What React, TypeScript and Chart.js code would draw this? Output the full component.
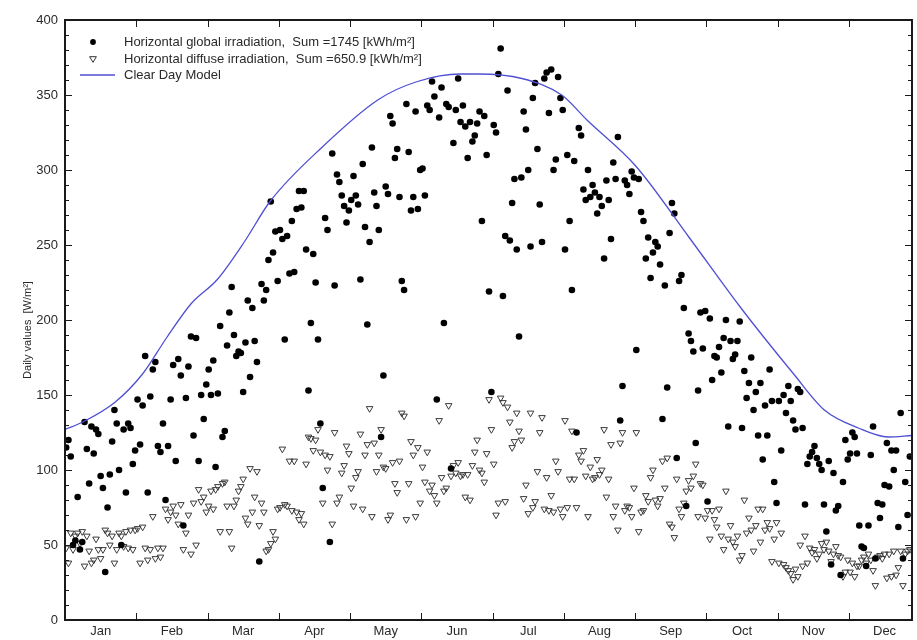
import { useEffect, useRef } from 'react';
import { Chart, registerables } from 'chart.js';

Chart.register(...registerables);

const MONTHS = ['Jan', 'Feb', 'Mar', 'Apr', 'May', 'Jun', 'Jul', 'Aug', 'Sep', 'Oct', 'Nov', 'Dec'];
const DAYS_IN_MONTH = [31, 28, 31, 30, 31, 30, 31, 31, 30, 31, 30, 31];
const Y_MIN = 0;
const Y_MAX = 400;
const Y_STEP = 50;
// visible part of the year, in months (December is cut at the right edge)
const X_MAX = 11.885;

// Daily horizontal global irradiation [W/m²], one value per day
const globalJan = [115, 120, 109, 50, 53, 82, 47, 52, 132, 114, 91, 129, 111, 127, 124, 96, 88, 32, 75, 97, 119, 140, 131, 100, 50, 127, 85, 131, 128, 104, 113];
const globalFeb = [147, 117, 143, 176, 85, 149, 167, 172, 116, 112, 131, 80, 116, 147, 170, 106, 174, 163, 63, 148, 169, 189, 123, 188, 106, 150, 134, 157];
const globalMar = [167, 150, 173, 102, 151, 196, 122, 126, 183, 205, 222, 190, 176, 179, 178, 152, 185, 213, 162, 208, 186, 172, 39, 224, 213, 220, 240, 279, 245, 259, 226];
const globalApr = [260, 254, 187, 256, 231, 266, 232, 274, 286, 275, 286, 247, 153, 198, 244, 225, 187, 131, 88, 268, 260, 52, 311, 223, 297, 292, 283, 276, 265, 273];
const globalMay = [280, 296, 283, 277, 227, 304, 262, 197, 252, 315, 285, 276, 260, 122, 163, 289, 284, 336, 331, 308, 314, 282, 226, 220, 344, 312, 273, 282, 339, 274, 300];
const globalJun = [301, 283, 343, 340, 359, 349, 147, 335, 355, 198, 344, 342, 101, 318, 340, 361, 332, 343, 329, 308, 332, 319, 323, 331, 339, 266, 336, 310, 219, 152];
const globalJul = [330, 325, 364, 381, 216, 256, 353, 253, 278, 294, 247, 189, 295, 339, 327, 300, 249, 348, 358, 314, 277, 252, 361, 365, 338, 367, 300, 307, 362, 348, 340];
const globalAug = [247, 310, 266, 220, 306, 125, 328, 323, 287, 280, 300, 282, 290, 285, 271, 282, 276, 241, 293, 280, 254, 305, 294, 322, 133, 156, 293, 290, 284, 299, 295];
const globalSep = [180, 294, 272, 266, 241, 255, 228, 245, 252, 249, 237, 134, 223, 155, 258, 278, 271, 108, 226, 230, 208, 76, 191, 186, 179, 118, 153, 205, 181, 206];
const globalOct = [79, 201, 160, 176, 175, 182, 165, 188, 200, 129, 186, 174, 177, 186, 199, 128, 166, 148, 158, 175, 140, 152, 123, 158, 107, 143, 123, 167, 146, 92, 78];
const globalNov = [146, 113, 150, 138, 156, 146, 133, 127, 154, 152, 128, 77, 104, 109, 112, 116, 108, 104, 100, 77, 59, 106, 37, 98, 73, 76, 30, 92, 120, 107];
const globalDec = [111, 125, 122, 111, 63, 49, 48, 36, 63, 110, 129, 41, 78, 68, 77, 90, 118, 89, 113, 100, 113, 62, 138, 41, 92, 70, 109];

// Daily horizontal diffuse irradiation [W/m²]
const diffuseJan = [48, 38, 58, 47, 56, 58, 51, 59, 36, 56, 46, 38, 40, 54, 47, 41, 47, 60, 58, 50, 56, 38, 47, 58, 56, 49, 59, 48, 60, 47, 60];
const diffuseFeb = [61, 38, 62, 48, 40, 47, 69, 41, 48, 42, 48, 74, 67, 72, 76, 70, 64, 77, 47, 58, 70, 44, 78, 50, 87, 79, 82, 72];
const diffuseMar = [76, 86, 74, 87, 89, 59, 91, 92, 76, 59, 48, 76, 80, 86, 89, 94, 68, 64, 101, 72, 82, 99, 63, 78, 72, 46, 47, 51, 59, 54, 74];
const diffuseApr = [75, 114, 77, 76, 106, 73, 106, 72, 67, 71, 64, 104, 122, 121, 113, 120, 127, 112, 78, 110, 100, 109, 64, 125, 78, 82, 98, 103, 116, 111];
const diffuseMay = [88, 76, 95, 99, 124, 74, 110, 117, 141, 69, 118, 99, 110, 127, 102, 101, 67, 70, 105, 91, 85, 106, 138, 136, 67, 91, 119, 110, 69, 115, 78];
const diffuseJun = [102, 92, 112, 86, 90, 83, 78, 133, 95, 86, 88, 143, 96, 103, 98, 105, 96, 97, 82, 97, 80, 103, 112, 120, 100, 98, 92, 111, 147, 127];
const diffuseJul = [104, 70, 78, 148, 145, 79, 142, 132, 115, 119, 138, 126, 120, 81, 90, 71, 138, 75, 79, 99, 125, 135, 74, 95, 73, 83, 72, 106, 99, 74, 69];
const diffuseAug = [133, 75, 94, 126, 94, 75, 110, 106, 113, 96, 69, 102, 94, 95, 107, 97, 100, 127, 82, 94, 117, 69, 76, 60, 118, 125, 73, 76, 75, 69, 88];
const diffuseSep = [125, 59, 72, 73, 83, 79, 95, 100, 80, 76, 81, 106, 88, 108, 64, 62, 55, 94, 74, 69, 78, 86, 93, 88, 96, 104, 69, 91, 90, 68];
const diffuseOct = [73, 54, 73, 67, 62, 74, 56, 47, 86, 54, 63, 52, 49, 56, 40, 43, 80, 58, 68, 60, 46, 63, 74, 52, 74, 60, 65, 61, 39, 54, 65];
const diffuseNov = [38, 58, 37, 35, 33, 31, 27, 34, 29, 50, 36, 56, 38, 48, 45, 47, 41, 44, 51, 47, 52, 46, 39, 44, 49, 43, 42, 29, 32, 40];
const diffuseDec = [32, 38, 29, 36, 36, 40, 42, 38, 44, 40, 33, 23, 42, 43, 41, 44, 28, 44, 29, 46, 30, 35, 46, 23, 44, 46, 47];

// Clear day model, sampled along the year (day of year -> W/m²)
const modelDay = [0, 7.6, 21.2, 33.1, 43.3, 53.9, 65, 76.5, 87.5, 109.6, 133.8, 150.4, 168.7, 176.3, 195, 212, 223, 243.4, 266.4, 288, 311, 324.1, 338.6, 351.3, 361.5];
const modelValue = [127, 132, 145, 164, 188, 211, 227, 252, 279, 315, 347, 359, 364, 364, 361, 350, 333, 303, 255, 209, 164, 140, 128, 122, 123];

const LEGEND_GLOBAL = 'Horizontal global irradiation,  Sum =1745 [kWh/m²]';
const LEGEND_DIFFUSE = 'Horizontal diffuse irradiation,  Sum =650.9 [kWh/m²]';
const LEGEND_MODEL = 'Clear Day Model';
const Y_TITLE = 'Daily values  [W/m²]';

const GLOBAL_BY_MONTH = [globalJan, globalFeb, globalMar, globalApr, globalMay, globalJun, globalJul, globalAug, globalSep, globalOct, globalNov, globalDec];
const DIFFUSE_BY_MONTH = [diffuseJan, diffuseFeb, diffuseMar, diffuseApr, diffuseMay, diffuseJun, diffuseJul, diffuseAug, diffuseSep, diffuseOct, diffuseNov, diffuseDec];

const FONT = '"Liberation Sans", Arial, Helvetica, sans-serif';
const MODEL_COLOR = '#4f4fd4';
const TEXT_COLOR = '#2a2a2a';

// x axis is measured in months: each month has the same width, days spread evenly inside it
function dailyPoints(byMonth: number[][]) {
  const pts: { x: number; y: number }[] = [];
  byMonth.forEach((values, m) => {
    values.forEach((v, i) => pts.push({ x: m + (i + 0.5) / DAYS_IN_MONTH[m], y: v }));
  });
  return pts;
}

function modelPoints() {
  const daysPerMonth = 365 / 12;
  return modelDay.map((d, i) => ({ x: d / daysPerMonth, y: modelValue[i] }));
}

const framePlugin = {
  id: 'frameAndLegend',
  afterDraw(chart: any) {
    const { ctx, chartArea } = chart;
    const { left, right, top, bottom } = chartArea;
    const xs = chart.scales.x;
    const ys = chart.scales.y;
    ctx.save();

    const seg = (x1: number, y1: number, x2: number, y2: number) => {
      ctx.beginPath();
      ctx.moveTo(x1, y1);
      ctx.lineTo(x2, y2);
      ctx.stroke();
    };

    // inward tick marks
    ctx.strokeStyle = '#1a1a1a';
    ctx.lineWidth = 1;
    for (let m = 1; m < 12; m++) {
      const px = Math.round(xs.getPixelForValue(m)) + 0.5;
      if (px > right) break;
      seg(px, bottom, px, bottom - 7);
      seg(px, top, px, top + 7);
    }
    for (let v = Y_MIN; v <= Y_MAX; v += 10) {
      const py = Math.round(ys.getPixelForValue(v)) + 0.5;
      const len = v % Y_STEP === 0 ? 7 : 4;
      seg(left, py, left + len, py);
      seg(right, py, right - len, py);
    }

    // plot frame
    ctx.lineWidth = 2;
    ctx.strokeRect(left, top, right - left, bottom - top);

    // y-axis title
    ctx.fillStyle = TEXT_COLOR;
    ctx.font = `11px ${FONT}`;
    ctx.textAlign = 'center';
    ctx.textBaseline = 'middle';
    ctx.translate(28, (top + bottom) / 2 + 10);
    ctx.rotate(-Math.PI / 2);
    ctx.fillText(Y_TITLE, 0, 0);
    ctx.setTransform(1, 0, 0, 1, 0, 0);

    // legend inside the plot
    const mx = left + 28;
    const tx = left + 59;
    const r1 = top + 22;
    const r2 = top + 39;
    const r3 = top + 55;
    ctx.fillStyle = '#000';
    ctx.beginPath();
    ctx.arc(mx, r1, 2.9, 0, Math.PI * 2);
    ctx.fill();

    ctx.strokeStyle = '#333';
    ctx.lineWidth = 1;
    ctx.beginPath();
    ctx.moveTo(mx - 3.4, r2 - 2.3);
    ctx.lineTo(mx + 3.4, r2 - 2.3);
    ctx.lineTo(mx, r2 + 3.3);
    ctx.closePath();
    ctx.stroke();

    ctx.strokeStyle = MODEL_COLOR;
    ctx.lineWidth = 1.3;
    seg(left + 15, r3, left + 50, r3);

    ctx.fillStyle = TEXT_COLOR;
    ctx.font = `13px ${FONT}`;
    ctx.textAlign = 'left';
    ctx.textBaseline = 'middle';
    ctx.fillText(LEGEND_GLOBAL, tx, r1);
    ctx.fillText(LEGEND_DIFFUSE, tx, r2);
    ctx.fillText(LEGEND_MODEL, tx, r3);
    ctx.restore();
  },
};

export default function App() {
  const canvasRef = useRef<HTMLCanvasElement | null>(null);

  useEffect(() => {
    if (!canvasRef.current) return;
    const chart = new Chart(canvasRef.current, {
      type: 'scatter',
      data: {
        datasets: [
          {
            type: 'line',
            label: LEGEND_MODEL,
            data: modelPoints(),
            borderColor: MODEL_COLOR,
            borderWidth: 1.3,
            pointRadius: 0,
            cubicInterpolationMode: 'monotone',
            fill: false,
            order: 0,
          } as any,
          {
            label: LEGEND_GLOBAL,
            data: dailyPoints(GLOBAL_BY_MONTH),
            pointStyle: 'circle',
            pointRadius: 3.3,
            backgroundColor: '#000',
            borderColor: '#000',
            borderWidth: 0,
            order: 1,
          },
          {
            label: LEGEND_DIFFUSE,
            data: dailyPoints(DIFFUSE_BY_MONTH),
            pointStyle: 'triangle',
            rotation: 180,
            pointRadius: 3.8,
            backgroundColor: 'rgba(255,255,255,0)',
            borderColor: '#3a3a3a',
            borderWidth: 1,
            order: 2,
          },
        ],
      },
      options: {
        animation: false,
        responsive: true,
        maintainAspectRatio: false,
        devicePixelRatio: 1,
        events: [],
        layout: { padding: { top: 20, right: 1, left: 0, bottom: 0 } },
        plugins: { legend: { display: false }, tooltip: { enabled: false }, title: { display: false } },
        scales: {
          x: {
            type: 'linear',
            min: 0,
            max: X_MAX,
            grid: { display: false, drawTicks: false },
            border: { display: false },
            afterBuildTicks: (scale: any) => {
              scale.ticks = MONTHS.map((_, i) => ({ value: i + 0.5 }));
            },
            afterFit: (scale: any) => {
              scale.height = 20;
            },
            ticks: {
              autoSkip: false,
              maxRotation: 0,
              minRotation: 0,
              padding: 4,
              color: TEXT_COLOR,
              font: { family: FONT, size: 13 },
              callback: (value: any) => MONTHS[Math.floor(Number(value))],
            },
          },
          y: {
            type: 'linear',
            min: Y_MIN,
            max: Y_MAX,
            grid: { display: false, drawTicks: false },
            border: { display: false },
            afterFit: (scale: any) => {
              scale.width = 65;
            },
            ticks: {
              stepSize: Y_STEP,
              padding: 7,
              color: TEXT_COLOR,
              font: { family: FONT, size: 13 },
            },
          },
        },
      },
      plugins: [framePlugin],
    });
    return () => chart.destroy();
  }, []);

  return (
    <div style={{ position: 'absolute', left: 0, top: 0, width: 917, height: 640, background: '#fff' }}>
      <canvas ref={canvasRef} />
    </div>
  );
}
